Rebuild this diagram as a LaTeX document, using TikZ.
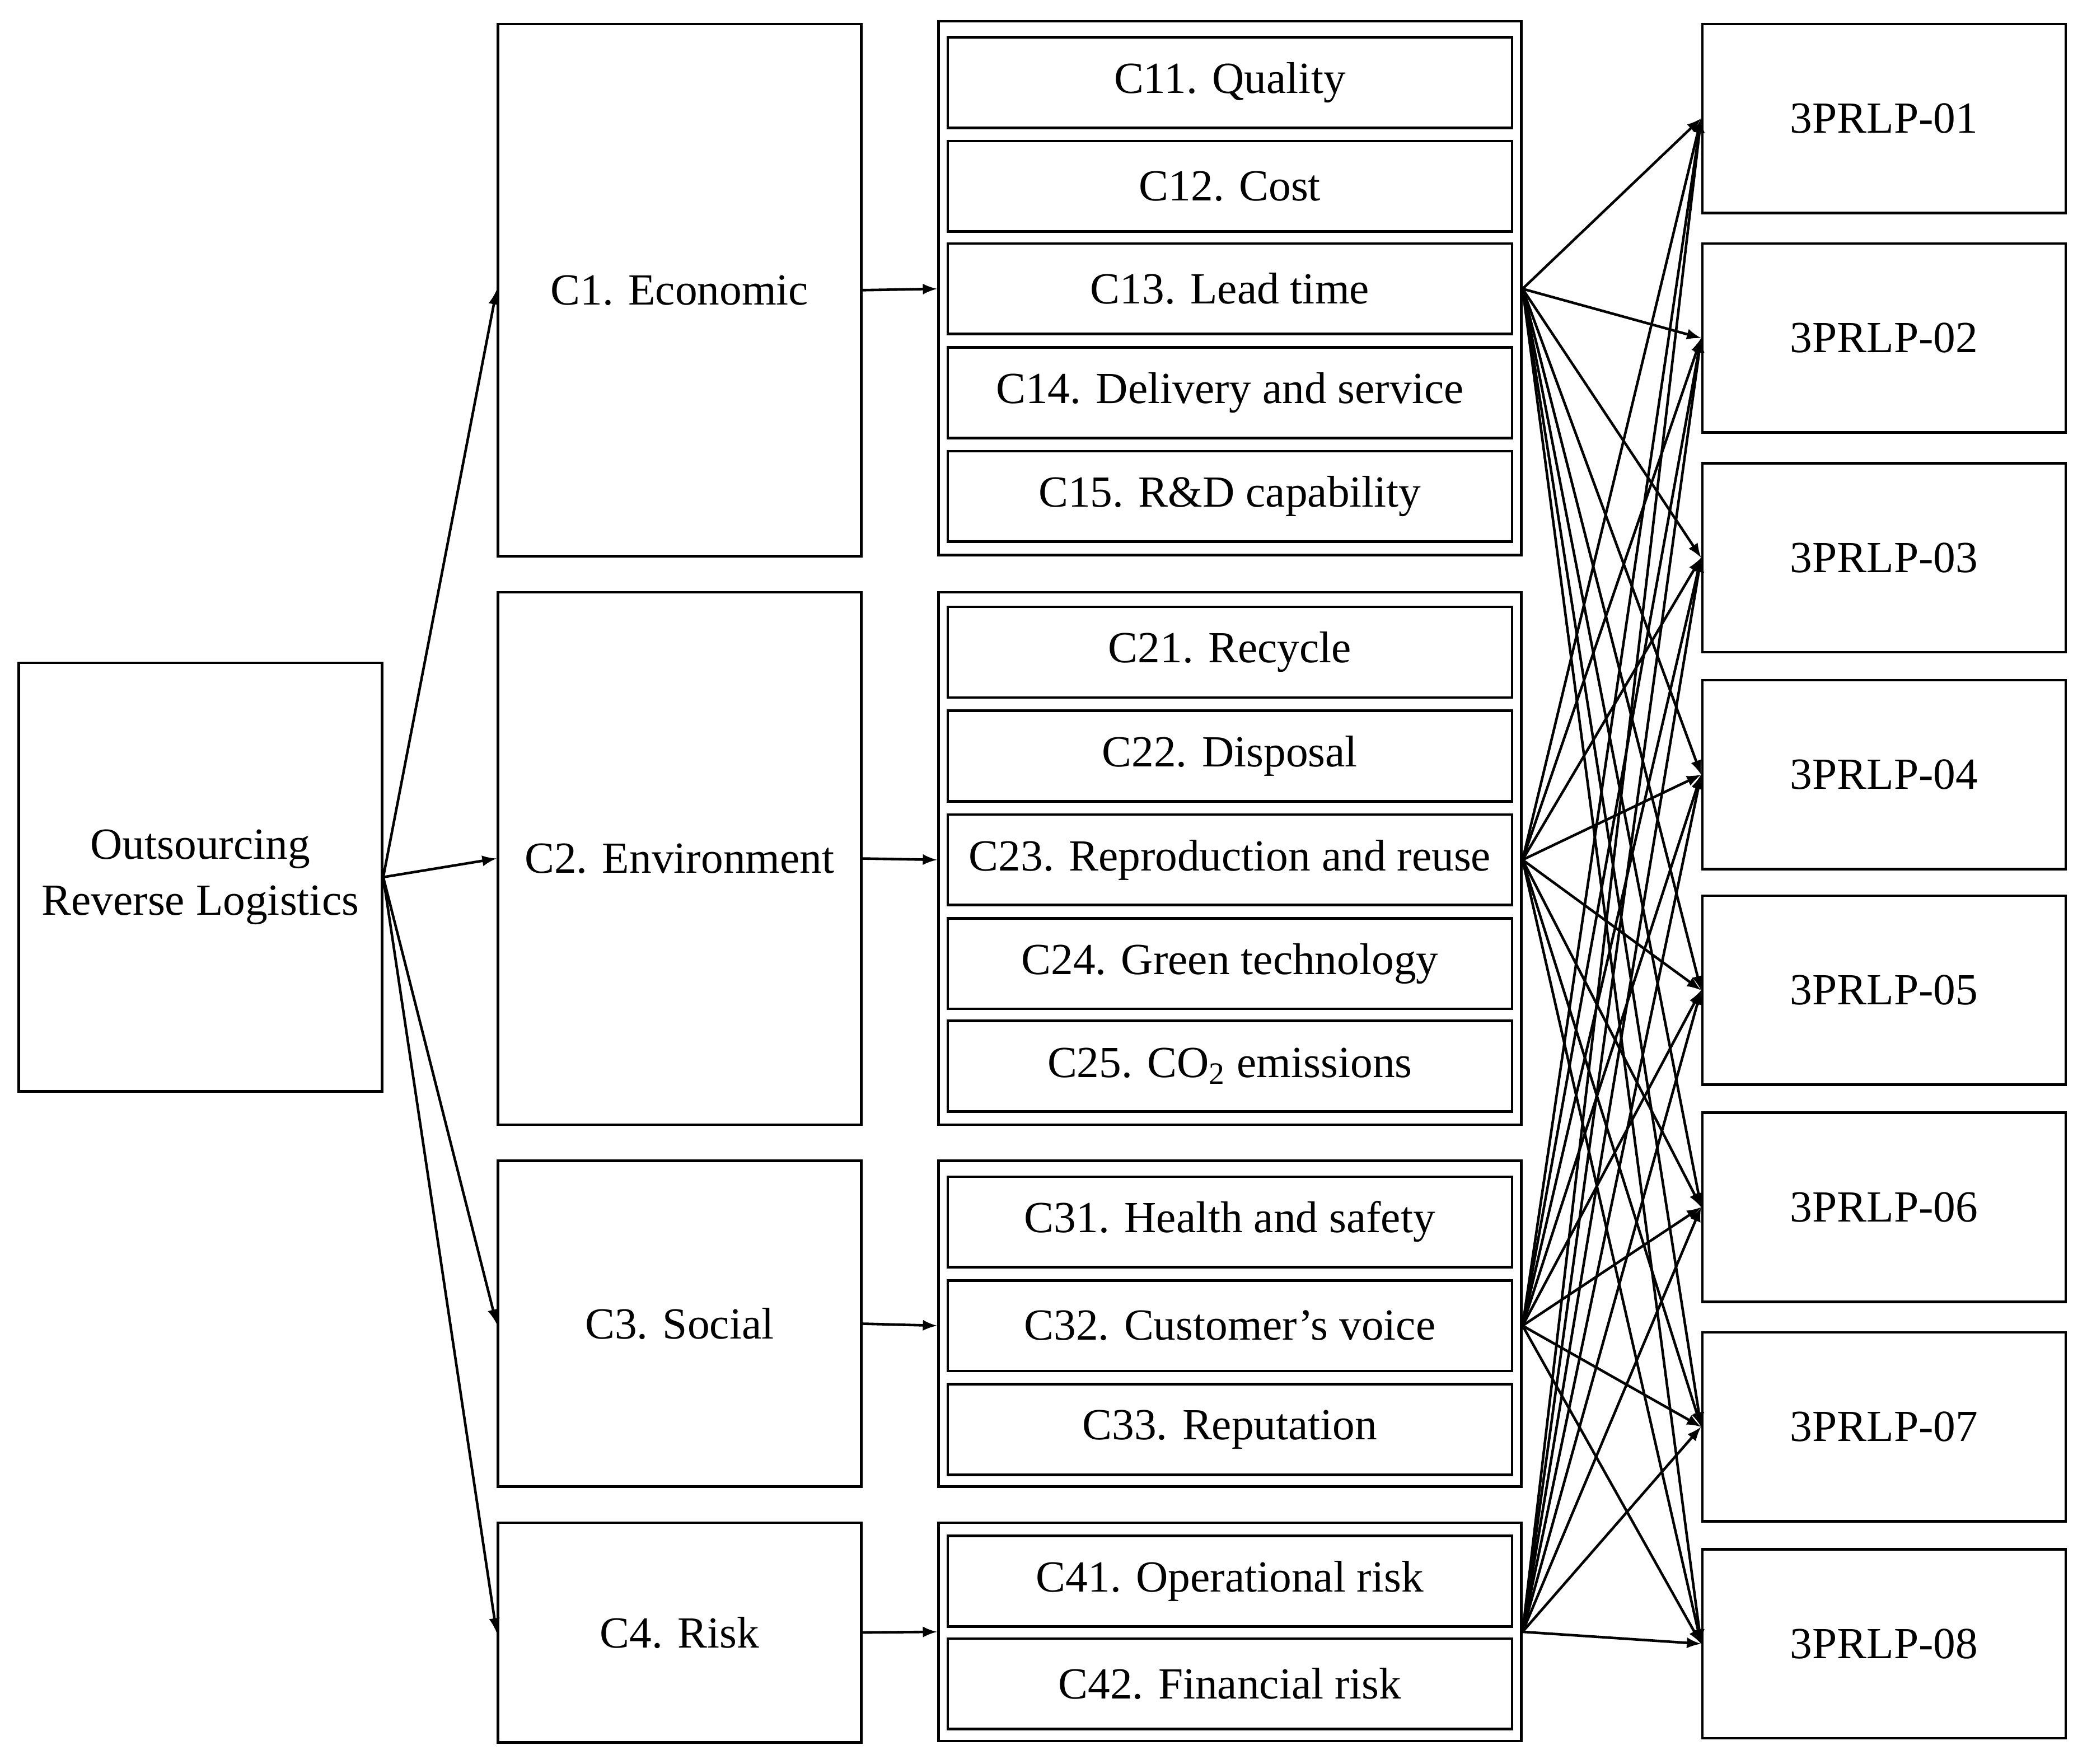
\documentclass[tikz,border=0pt]{standalone}
\usepackage{fontspec}
\setmainfont{Liberation Serif}
\usepackage{tikz}
\usetikzlibrary{positioning, arrows}

\begin{document}
\begin{tikzpicture}[x=0.02cm, y=-0.02cm, >=latex, line width=1.1pt,
    every node/.style={font=\fontsize{19}{24}\selectfont, align=center, inner sep=0pt},
    box/.style={draw, minimum width=5.46cm},
    group/.style={draw, minimum width=8.76cm},
    sub/.style={draw, minimum width=8.48cm, minimum height=1.36cm},
    alt/.style={draw, minimum width=5.46cm, minimum height=2.84cm}]
    \useasboundingbox (0,0) rectangle (1568,1325);

    % Goal
    \node[box, minimum height=6.44cm] (root) at (150.5,659) {Outsourcing\\Reverse Logistics};

    % Criteria
    \node[box, minimum height=8cm] (c1) at (510.5,218) {C1. Economic};
    \node[box, minimum height=8cm] (c2) at (510.5,645) {C2. Environment};
    \node[box, minimum height=4.9cm] (c3) at (510.5,994.5) {C3. Social};
    \node[box, minimum height=3.3cm] (c4) at (510.5,1226.5) {C4. Risk};

    % Sub-criteria groups
    \node[group, minimum height=8.02cm] (g1) at (924,216.5) {};
    \node[group, minimum height=8cm] (g2) at (924,645) {};
    \node[group, minimum height=4.9cm] (g3) at (924,994.5) {};
    \node[group, minimum height=3.28cm] (g4) at (924,1226) {};

    \node[sub] (c11) at (924,62) {C11. Quality};
    \node[sub] (c12) at (924,140) {C12. Cost};
    \node[sub] (c13) at (924,217) {C13. Lead time};
    \node[sub] (c14) at (924,295) {C14. Delivery and service};
    \node[sub] (c15) at (924,373) {C15. R\&D capability};

    \node[sub] (c21) at (924,490) {C21. Recycle};
    \node[sub] (c22) at (924,568) {C22. Disposal};
    \node[sub] (c23) at (924,646) {C23. Reproduction and reuse};
    \node[sub] (c24) at (924,724) {C24. Green technology};
    \node[sub] (c25) at (924,801) {C25. CO\textsubscript{2} emissions};

    \node[sub] (c31) at (924,918) {C31. Health and safety};
    \node[sub] (c32) at (924,996) {C32. Customer's voice};
    \node[sub] (c33) at (924,1074) {C33. Reputation};

    \node[sub] (c41) at (924,1188) {C41. Operational risk};
    \node[sub] (c42) at (924,1265) {C42. Financial risk};

    % Alternatives
    \foreach \i/\y in {1/89, 2/254, 3/419, 4/582, 5/744, 6/907, 7/1072, 8/1235}
        \node[alt] (p\i) at (1415.5,\y) {3PRLP-0\i};

    % Arrows
    \foreach \c in {c1, c2, c3, c4}
        \draw[->] (root.east) -- (\c.west);
    \draw[->] (c1.east) -- (g1.west |- c13);
    \draw[->] (c2.east) -- (g2.west |- c23);
    \draw[->] (c3.east) -- (g3.west |- c32);
    \draw[->] (c4.east) -- (g4.west);
    \foreach \s/\g in {c13/g1, c23/g2, c32/g3}
        \foreach \i in {1,...,8}
            \draw[->] (\g.east |- \s) -- (p\i.west);
    \foreach \i in {1,...,8}
        \draw[->] (g4.east) -- (p\i.west);
\end{tikzpicture}
\end{document}
